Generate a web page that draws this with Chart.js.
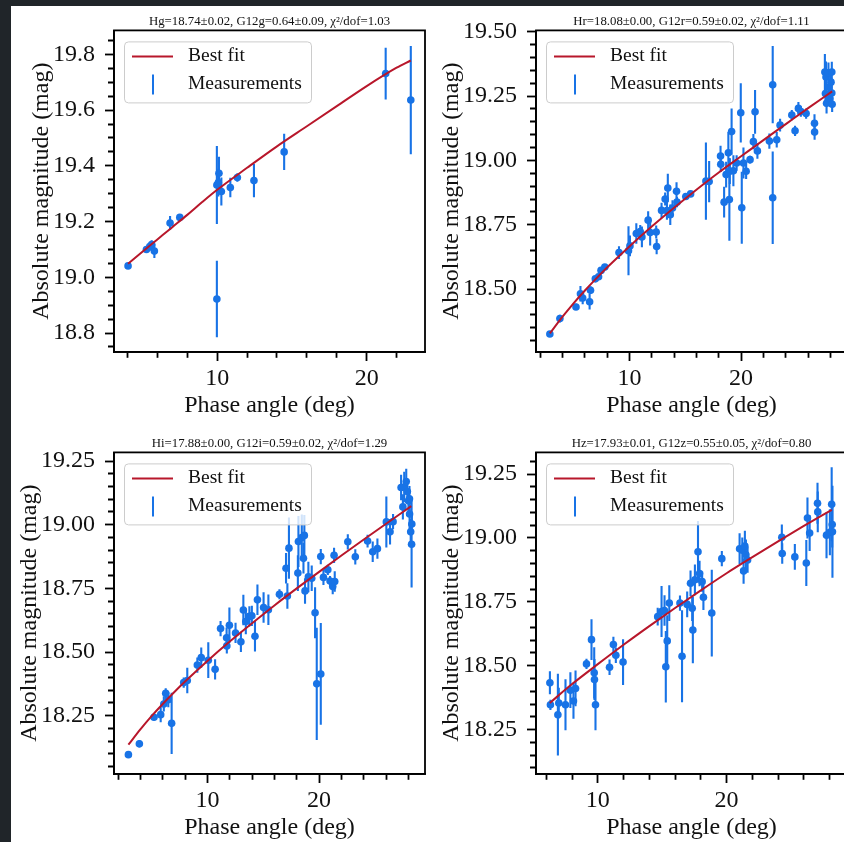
<!DOCTYPE html>
<html>
<head>
<meta charset="utf-8">
<script src="https://cdn.jsdelivr.net/npm/chart.js@4.4.1/dist/chart.umd.min.js"></script>
<style>
  html, body { margin: 0; padding: 0; width: 844px; height: 842px; overflow: hidden; background: #202529; }
  #sheet { position: absolute; left: 11px; top: 6px; width: 833px; height: 836px; background: #ffffff; }
  canvas { position: absolute; }
</style>
</head>
<body>
<div id="sheet"></div>
<canvas id="panel-g" width="421" height="415" style="left:11px;top:6px;width:421px;height:415px"></canvas>
<canvas id="panel-r" width="421" height="415" style="left:433px;top:6px;width:421px;height:415px"></canvas>
<canvas id="panel-i" width="421" height="415" style="left:11px;top:428px;width:421px;height:415px"></canvas>
<canvas id="panel-z" width="421" height="415" style="left:433px;top:428px;width:421px;height:415px"></canvas>
<script>
// ---------- g band ----------
const gPhase = [4.04, 5.27, 5.49, 5.62, 5.80, 6.85, 7.50, 9.98, 9.98, 10.08, 10.12, 10.28, 10.88, 11.35, 12.46, 14.48, 21.27, 22.95];
const gMag   = [19.041, 19.100, 19.110, 19.118, 19.094, 19.195, 19.215, 19.331, 18.922, 19.340, 19.373, 19.308, 19.322, 19.358, 19.347, 19.450, 19.731, 19.636];
const gErr   = [0.010, 0.012, 0.015, 0.015, 0.025, 0.025, 0.012, 0.140, 0.137, 0.050, 0.060, 0.050, 0.035, 0.015, 0.060, 0.065, 0.093, 0.194];
const gFitPhase = [4.04, 5, 6, 7, 8, 9, 10, 12, 14, 16, 18, 20, 22, 22.95];
const gFitMag   = [19.049, 19.092, 19.136, 19.180, 19.224, 19.270, 19.314, 19.393, 19.470, 19.542, 19.614, 19.686, 19.752, 19.778];
const gXLabels = ['10', '20'];
const gYLabels = ['18.8', '19.0', '19.2', '19.4', '19.6', '19.8'];
const gTitle = 'Hg=18.74\u00b10.02, G12g=0.64\u00b10.09, \u03c7\u00b2/dof=1.03';

// ---------- r band ----------
const rPhase = [2.88, 3.78, 5.22, 5.62, 5.82, 6.44, 6.52, 6.95, 7.24, 7.46, 7.80, 9.07, 9.92, 10.05, 10.62, 10.97, 11.12, 11.68, 11.86, 12.40,
  12.44, 12.88, 13.20, 13.44, 13.36, 13.66, 13.86, 14.22, 14.26, 15.05, 15.48, 16.85, 17.14, 18.16, 18.18, 18.48, 18.66, 18.86, 18.95, 18.99,
  19.15, 19.31, 19.60, 19.97, 20.06, 20.21, 20.45, 20.80, 21.10, 21.25, 21.46, 22.53, 22.83, 22.83, 23.19, 23.49, 24.54, 24.83, 25.13, 25.35,
  25.82, 26.57, 26.58, 27.50, 27.55, 27.60, 27.65, 27.82, 27.85, 27.95, 28.05, 28.12, 28.12, 28.15];
const rMag = [18.326, 18.386, 18.431, 18.482, 18.466, 18.451, 18.496, 18.540, 18.548, 18.573, 18.586, 18.642, 18.649, 18.668, 18.716, 18.724, 18.703, 18.768, 18.720, 18.722,
  18.666, 18.806, 18.850, 18.893, 18.805, 18.789, 18.815, 18.880, 18.838, 18.860, 18.870, 18.920, 18.918, 19.017, 18.985, 18.838, 18.945, 19.030, 18.848, 18.958,
  19.112, 18.960, 18.990, 19.185, 18.816, 18.990, 18.958, 19.003, 19.073, 19.189, 19.037, 19.075, 19.294, 18.855, 19.080, 19.137, 19.176, 19.115, 19.202, 19.190,
  19.182, 19.144, 19.110, 19.343, 19.260, 19.324, 19.222, 19.340, 19.285, 19.240, 19.304, 19.343, 19.262, 19.218];
const rErr = [0.010, 0.015, 0.012, 0.030, 0.025, 0.030, 0.015, 0.012, 0.012, 0.012, 0.012, 0.025, 0.095, 0.040, 0.040, 0.025, 0.040, 0.035, 0.050, 0.025,
  0.030, 0.030, 0.025, 0.055, 0.035, 0.040, 0.030, 0.035, 0.020, 0.010, 0.010, 0.150, 0.080, 0.040, 0.030, 0.060, 0.050, 0.080, 0.160, 0.050,
  0.090, 0.060, 0.030, 0.115, 0.140, 0.060, 0.030, 0.015, 0.030, 0.085, 0.030, 0.030, 0.150, 0.180, 0.030, 0.025, 0.020, 0.020, 0.025, 0.020,
  0.020, 0.035, 0.030, 0.070, 0.050, 0.060, 0.040, 0.040, 0.050, 0.030, 0.050, 0.040, 0.040, 0.030];
const rFitPhase = [2.88, 4, 5, 6, 7, 8, 10, 12, 14, 16, 18, 20, 22, 24, 26, 28.15];
const rFitMag   = [18.328, 18.392, 18.445, 18.494, 18.540, 18.584, 18.666, 18.743, 18.816, 18.886, 18.953, 19.016, 19.079, 19.141, 19.203, 19.268];
const rXLabels = ['10', '20'];
const rYLabels = ['18.50', '18.75', '19.00', '19.25', '19.50'];
const rTitle = 'Hr=18.08\u00b10.00, G12r=0.59\u00b10.02, \u03c7\u00b2/dof=1.11';

// ---------- i band ----------
const iPhase = [2.93, 3.91, 5.22, 5.82, 6.10, 6.27, 6.50, 6.80, 7.88, 8.20, 9.10, 9.45, 10.08, 10.69, 11.18, 11.72, 11.74, 11.97, 12.52, 13.00,
  13.22, 13.44, 13.76, 13.98, 14.26, 14.48, 15.03, 15.46, 16.45, 17.04, 17.16, 17.30, 18.10, 18.15, 18.45, 18.60, 18.68, 18.74, 19.04, 19.34,
  19.64, 19.79, 20.15, 20.15, 20.39, 20.78, 20.98, 21.22, 21.34, 21.40, 22.57, 23.24, 24.34, 24.80, 25.22, 26.02, 26.35, 26.62, 27.34, 27.50,
  27.62, 27.80, 27.90, 28.00, 28.09, 28.10, 28.20, 28.28, 28.30];
const iMag = [18.097, 18.140, 18.244, 18.254, 18.296, 18.338, 18.313, 18.220, 18.380, 18.388, 18.449, 18.478, 18.468, 18.432, 18.592, 18.556, 18.524, 18.605, 18.575, 18.540,
  18.665, 18.620, 18.640, 18.642, 18.562, 18.705, 18.675, 18.666, 18.727, 18.829, 18.720, 18.908, 18.810, 18.934, 18.950, 18.868, 18.958, 18.740, 18.795, 18.790,
  18.654, 18.375, 18.414, 18.875, 18.793, 18.823, 18.779, 18.757, 18.880, 18.777, 18.933, 18.874, 18.936, 18.894, 18.906, 19.011, 18.972, 19.012, 19.146, 19.070,
  19.148, 19.170, 19.130, 19.094, 19.102, 19.042, 18.972, 18.923, 19.003];
const iErr = [0.012, 0.015, 0.012, 0.030, 0.030, 0.020, 0.030, 0.120, 0.020, 0.050, 0.030, 0.040, 0.070, 0.040, 0.030, 0.040, 0.030, 0.070, 0.040, 0.040,
  0.060, 0.050, 0.040, 0.040, 0.060, 0.060, 0.060, 0.060, 0.020, 0.060, 0.050, 0.120, 0.070, 0.100, 0.090, 0.060, 0.080, 0.050, 0.060, 0.050,
  0.100, 0.220, 0.200, 0.030, 0.030, 0.020, 0.020, 0.030, 0.030, 0.040, 0.030, 0.030, 0.025, 0.040, 0.040, 0.100, 0.050, 0.030, 0.050, 0.050,
  0.060, 0.050, 0.050, 0.050, 0.050, 0.060, 0.050, 0.170, 0.040];
const iFitPhase = [2.93, 4, 5, 6, 7, 8, 10, 12, 14, 16, 18, 20, 22, 24, 26, 28.25];
const iFitMag   = [18.136, 18.196, 18.248, 18.296, 18.341, 18.384, 18.465, 18.541, 18.613, 18.683, 18.750, 18.815, 18.879, 18.942, 19.004, 19.073];
const iXLabels = ['10', '20'];
const iYLabels = ['18.25', '18.50', '18.75', '19.00', '19.25'];
const iTitle = 'Hi=17.88\u00b10.00, G12i=0.59\u00b10.02, \u03c7\u00b2/dof=1.29';

// ---------- z band ----------
const zPhase = [6.28, 6.32, 6.90, 6.97, 7.49, 7.87, 8.11, 8.27, 9.12, 9.51, 9.72, 9.74, 9.82, 10.91, 11.21, 11.40, 11.96, 14.65, 14.95, 15.18,
  15.28, 15.39, 15.55, 16.38, 16.54, 16.94, 17.20, 17.33, 17.38, 17.54, 17.78, 17.90, 18.10, 18.20, 18.85, 19.63, 21.01, 21.22, 21.32, 21.42,
  21.50, 21.63, 24.29, 24.32, 25.30, 26.19, 26.28, 26.45, 27.06, 27.08, 27.76, 28.02, 28.16, 28.20, 28.22];
const zMag = [18.433, 18.347, 18.308, 18.354, 18.347, 18.404, 18.362, 18.411, 18.507, 18.602, 18.472, 18.446, 18.347, 18.494, 18.583, 18.541, 18.514, 18.692, 18.712, 18.716,
  18.496, 18.597, 18.745, 18.745, 18.537, 18.740, 18.823, 18.725, 18.640, 18.836, 18.946, 18.861, 18.829, 18.768, 18.706, 18.919, 18.958, 18.952, 18.871, 18.968,
  18.934, 18.914, 19.003, 18.939, 18.926, 18.902, 19.078, 19.019, 19.136, 19.102, 19.011, 19.022, 19.132, 19.053, 19.024];
const zErr = [0.045, 0.020, 0.160, 0.060, 0.100, 0.070, 0.070, 0.070, 0.020, 0.080, 0.100, 0.080, 0.100, 0.030, 0.030, 0.030, 0.090, 0.035, 0.100, 0.060,
  0.140, 0.100, 0.070, 0.030, 0.180, 0.050, 0.050, 0.050, 0.130, 0.060, 0.120, 0.050, 0.040, 0.050, 0.170, 0.030, 0.060, 0.050, 0.050, 0.060,
  0.060, 0.050, 0.050, 0.040, 0.050, 0.090, 0.080, 0.070, 0.080, 0.080, 0.090, 0.090, 0.145, 0.090, 0.180];
const zFitPhase = [6.27, 8, 10, 12, 14, 16, 18, 20, 22, 24, 26, 28.17];
const zFitMag   = [18.354, 18.428, 18.506, 18.582, 18.655, 18.726, 18.795, 18.862, 18.925, 18.987, 19.047, 19.110];
const zXLabels = ['10', '20'];
const zYLabels = ['18.25', '18.50', '18.75', '19.00', '19.25'];
const zTitle = 'Hz=17.93\u00b10.01, G12z=0.55\u00b10.05, \u03c7\u00b2/dof=0.80';

// ---------- shared styling ----------
const SERIF = "'Liberation Serif', 'Times New Roman', serif";
const POINT_BLUE = '#1873e6';
const FIT_RED = '#b8172b';
const INK = '#111111';
const AXIS_FONT = 24;

Chart.defaults.font.family = SERIF;
Chart.defaults.color = INK;

// vertical error bars, drawn under the markers
const errorBars = {
  id: 'errorBars',
  beforeDatasetsDraw(chart) {
    const { ctx, chartArea, scales: { x, y } } = chart;
    chart.data.datasets.forEach(ds => {
      if (!ds.errors) return;
      ctx.save();
      ctx.beginPath();
      ctx.rect(chartArea.left, chartArea.top, chartArea.right - chartArea.left, chartArea.bottom - chartArea.top);
      ctx.clip();
      ctx.strokeStyle = ds.backgroundColor;
      ctx.lineWidth = 2.1;
      ctx.lineCap = 'butt';
      ds.data.forEach((p, k) => {
        const e = ds.errors[k];
        const px = x.getPixelForValue(p.x);
        ctx.beginPath();
        ctx.moveTo(px, y.getPixelForValue(p.y - e));
        ctx.lineTo(px, y.getPixelForValue(p.y + e));
        ctx.stroke();
      });
      ctx.restore();
    });
  }
};

// axes frame, panel title and in-axes legend
const frameAndLegend = {
  id: 'frameAndLegend',
  afterDraw(chart, args, opts) {
    const { ctx, chartArea: a } = chart;
    ctx.save();
    ctx.strokeStyle = '#000';
    ctx.lineWidth = 1.8;
    ctx.strokeRect(a.left, a.top, a.right - a.left, a.bottom - a.top);

    ctx.fillStyle = INK;
    ctx.font = '12.8px ' + SERIF;
    ctx.textAlign = 'center';
    ctx.textBaseline = 'alphabetic';
    ctx.fillText(opts.title, (a.left + a.right) / 2, a.top - 5.5);

    const bx = a.left + 10.5, by = a.top + 11.5, bw = 187, bh = 61, r = 4;
    ctx.beginPath();
    ctx.moveTo(bx + r, by);
    ctx.arcTo(bx + bw, by, bx + bw, by + bh, r);
    ctx.arcTo(bx + bw, by + bh, bx, by + bh, r);
    ctx.arcTo(bx, by + bh, bx, by, r);
    ctx.arcTo(bx, by, bx + bw, by, r);
    ctx.closePath();
    ctx.fillStyle = 'rgba(255,255,255,0.8)';
    ctx.fill();
    ctx.strokeStyle = '#cccccc';
    ctx.lineWidth = 1;
    ctx.stroke();

    ctx.strokeStyle = FIT_RED;
    ctx.lineWidth = 2;
    ctx.beginPath();
    ctx.moveTo(a.left + 18, a.top + 26);
    ctx.lineTo(a.left + 59, a.top + 26);
    ctx.stroke();

    ctx.strokeStyle = POINT_BLUE;
    ctx.beginPath();
    ctx.moveTo(a.left + 39, a.top + 44);
    ctx.lineTo(a.left + 39, a.top + 64);
    ctx.stroke();

    ctx.fillStyle = INK;
    ctx.font = '19.5px ' + SERIF;
    ctx.textAlign = 'left';
    ctx.fillText('Best fit', a.left + 74, a.top + 31);
    ctx.fillText('Measurements', a.left + 74, a.top + 59);
    ctx.restore();
  }
};

function tickList(min, max, step) {
  const out = [];
  for (let k = Math.ceil(min / step - 1e-9); k * step <= max + 1e-9; k++) {
    out.push({ value: +(k * step).toFixed(6) });
  }
  return out;
}

function labelFor(labels, v) {
  const hit = labels.find(l => Math.abs(parseFloat(l) - v) < 1e-6);
  return hit === undefined ? '' : hit;
}

function makePanel(id, p) {
  const points = p.phase.map((x, k) => ({ x, y: p.mag[k] }));
  const fit = p.fitPhase.map((x, k) => ({ x, y: p.fitMag[k] }));
  return new Chart(document.getElementById(id), {
    type: 'scatter',
    data: {
      datasets: [
        { type: 'line', label: 'Best fit', data: fit, borderColor: FIT_RED, borderWidth: 2,
          pointRadius: 0, fill: false, cubicInterpolationMode: 'monotone', order: 0 },
        { type: 'scatter', label: 'Measurements', data: points, errors: p.err,
          backgroundColor: POINT_BLUE, borderWidth: 0, pointRadius: 3.8, pointHoverRadius: 3.8, order: 1 }
      ]
    },
    options: {
      responsive: false,
      devicePixelRatio: 1,
      animation: false,
      events: [],
      layout: { padding: { top: 21, right: 7, bottom: 0, left: 0 } },
      plugins: {
        legend: { display: false },
        tooltip: { enabled: false },
        frameAndLegend: { title: p.title }
      },
      scales: {
        x: {
          type: 'linear', position: 'bottom', min: p.xMin, max: p.xMax,
          afterBuildTicks: s => { s.ticks = tickList(p.xMin, p.xMax, 2); },
          afterFit: s => { s.height = 69; },
          border: { display: true, color: '#000', width: 1.8 },
          grid: {
            display: true, drawOnChartArea: false, drawTicks: true, tickLength: 9,
            tickWidth: 1.8, tickColor: '#000',
            tickBorderDash: c => (labelFor(p.xLabels, c.tick.value) ? [] : [5, 100])
          },
          ticks: {
            autoSkip: false, maxRotation: 0, minRotation: 0, padding: 3.8, color: INK,
            font: { size: AXIS_FONT },
            callback: v => labelFor(p.xLabels, v)
          },
          title: { display: true, text: 'Phase angle (deg)', color: INK, font: { size: AXIS_FONT },
                   padding: { top: 0, bottom: 0.6 } }
        },
        y: {
          type: 'linear', position: 'left', min: p.yMin, max: p.yMax,
          afterBuildTicks: s => { s.ticks = tickList(p.yMin, p.yMax, 0.05); },
          afterFit: s => { s.width = 103; },
          border: { display: true, color: '#000', width: 1.8 },
          grid: {
            display: true, drawOnChartArea: false, drawTicks: true, tickLength: 9,
            tickWidth: 1.8, tickColor: '#000',
            tickBorderDash: c => (labelFor(p.yLabels, c.tick.value) ? [] : [0, 3, 6, 100])
          },
          ticks: {
            autoSkip: false, padding: 10, color: INK,
            font: { size: AXIS_FONT },
            callback: v => labelFor(p.yLabels, v)
          },
          title: { display: true, text: 'Absolute magnitude (mag)', color: INK, font: { size: AXIS_FONT },
                   padding: { top: p.yTitlePad, bottom: 0 } }
        }
      }
    },
    plugins: [errorBars, frameAndLegend]
  });
}

makePanel('panel-g', { phase: gPhase, mag: gMag, err: gErr, fitPhase: gFitPhase, fitMag: gFitMag,
  xMin: 3.1, xMax: 23.9, yMin: 18.732, yMax: 19.886, xLabels: gXLabels, yLabels: gYLabels, title: gTitle, yTitlePad: 16 });
makePanel('panel-r', { phase: rPhase, mag: rMag, err: rErr, fitPhase: rFitPhase, fitMag: rFitMag,
  xMin: 1.64, xMax: 29.48, yMin: 18.256, yMax: 19.505, xLabels: rXLabels, yLabels: rYLabels, title: rTitle, yTitlePad: 4.6 });
makePanel('panel-i', { phase: iPhase, mag: iMag, err: iErr, fitPhase: iFitPhase, fitMag: iFitMag,
  xMin: 1.64, xMax: 29.48, yMin: 18.021, yMax: 19.284, xLabels: iXLabels, yLabels: iYLabels, title: iTitle, yTitlePad: 4.6 });
makePanel('panel-z', { phase: zPhase, mag: zMag, err: zErr, fitPhase: zFitPhase, fitMag: zFitMag,
  xMin: 5.2, xMax: 29.35, yMin: 18.076, yMax: 19.335, xLabels: zXLabels, yLabels: zYLabels, title: zTitle, yTitlePad: 4.6 });
</script>
</body>
</html>
